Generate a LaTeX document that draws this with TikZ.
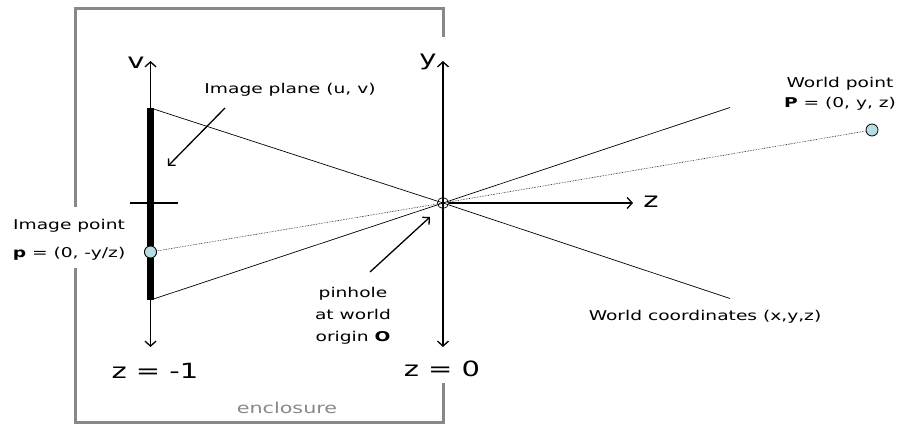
\documentclass[tikz,border=0pt]{standalone}
\usepackage{fontspec}
\setmainfont{DejaVu Sans}[FakeStretch=1.38]
\usetikzlibrary{arrows.meta}
\definecolor{ptfill}{RGB}{183,221,224}
\definecolor{encgray}{RGB}{136,136,136}
\begin{document}
\begin{tikzpicture}[x=1pt, y=-1pt,
            axis/.style={-{Straight Barb[length=5pt, width=11pt, line width=1.3pt]}, line width=1.3pt},
            ray/.style={line width=0.7pt},
            sight/.style={line width=0.6pt, densely dotted},
            point/.style={circle, draw, fill=ptfill, minimum size=12pt, inner sep=0pt, line width=0.8pt},
            label/.style={font=\fontsize{13.5}{16}\selectfont, align=center, inner sep=0pt},
            biglabel/.style={font=\fontsize{21}{24}\selectfont, inner sep=0pt}
        ]
            \useasboundingbox (0,0) rectangle (915,425);
            % enclosure
            \draw[encgray, line width=3pt] (75.5,207) -- (75.5,9) -- (443,9) -- (443,37);
            \draw[encgray, line width=3pt] (75.5,268) -- (75.5,422.5) -- (443,422.5) -- (443,383);
            \node[label, text=encgray, font=\fontsize{15}{18}\selectfont] (enc) at (287,408) {enclosure};

            % image plane and pinhole
            \coordinate (top) at (150.5,108);
            \coordinate (bot) at (150.5,300);
            \node[circle, draw, minimum size=11pt, inner sep=0pt, line width=0.7pt] (O) at (443,203) {};
            \node[point] (p) at (150.5,252) {};
            \node[point] (P) at (872,130) {};
            \coordinate (uend) at (730,107.5);
            \coordinate (lend) at (730,298.5);
            \draw[ray] (top) -- (O.center) -- (lend);
            \draw[ray] (bot) -- (O.center) -- (uend);
            \draw[sight] (p) -- (O.center) -- (P);
            \draw[line width=7pt] (top) -- (p) (p) -- (bot);
            \draw[line width=1.3pt] (130,203) -- (178,203);
            \node[point] at (p) {};

            % axes
            \coordinate (vtop) at (150.5,61);
            \coordinate (vbot) at (150.5,347);
            \coordinate (ytop) at (443,61);
            \coordinate (ybot) at (443,347);
            \coordinate (zend) at (633,203);
            \draw[axis] (top) -- (vtop);
            \draw[axis] (bot) -- (vbot);
            \draw[axis] (O.center) -- (ytop);
            \draw[axis] (O.center) -- (ybot);
            \draw[axis] (O.east) -- (zend);
            \node[biglabel] (v) at (136,63) {v};
            \node[biglabel] (y) at (428,62) {y};
            \node[biglabel] (z) at (651,202) {z};
            \node[biglabel] (zm) at (155,371) {z = -1};
            \node[biglabel] (zo) at (442,369) {z = 0};

            % labels
            \node[label] (iplane) at (290,90) {Image plane (u, v)};
            \draw[-{Straight Barb[length=5pt, width=10pt, line width=1.3pt]}, line width=1.3pt] (225,108) -- (168,166);
            \node[label] (ipoint) at (69,240) {Image point\\[12pt]\textbf{p} = (0, -y/z)};
            \node[label] (wpoint) at (840,94) {World point\\[4pt]\textbf{P} = (0, y, z)};
            \node[label] (wcoord) at (705,317) {World coordinates (x,y,z)};
            \node[label] (pinhole) at (353,316) {pinhole\\[6pt]at world\\[6pt]origin \textbf{O}};
            \draw[-{Straight Barb[length=5pt, width=10pt, line width=1.3pt]}, line width=1.3pt] (370,272) -- (430,217);
        \end{tikzpicture}
\end{document}
